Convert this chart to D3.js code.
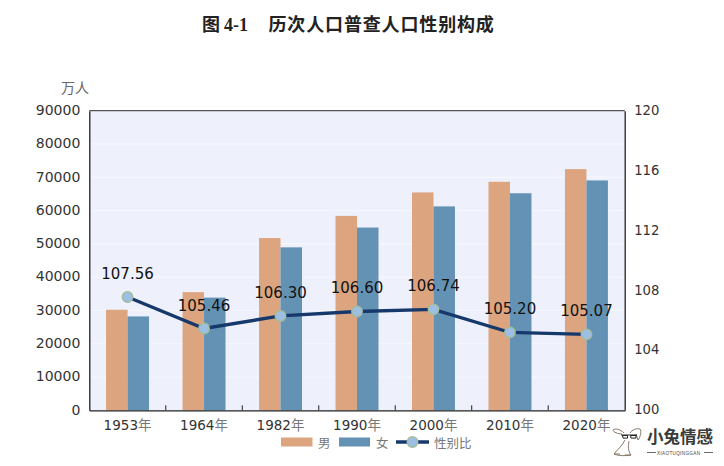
<!DOCTYPE html>
<html>
<head>
<meta charset="utf-8">
<script src="https://cdn.jsdelivr.net/npm/d3@7"></script>
<style>
  html, body { margin: 0; background: #fff; }
  svg { display: block; }
  .tick text, .lbl { font-family: "DejaVu Sans", "Noto Sans CJK SC", sans-serif; }
</style>
</head>
<body>
<svg id="chart" width="724" height="466"></svg>
<script>
const years  = ["1953年", "1964年", "1982年", "1990年", "2000年", "2010年", "2020年"];
const male   = [30200, 35500, 51750, 58400, 65450, 68650, 72450];
const female = [28200, 33850, 48950, 54900, 61250, 65200, 69050];
const ratio  = [107.56, 105.46, 106.30, 106.60, 106.74, 105.20, 105.07];
const ratioLabels = ["107.56", "105.46", "106.30", "106.60", "106.74", "105.20", "105.07"];
const leftTicks  = [0, 10000, 20000, 30000, 40000, 50000, 60000, 70000, 80000, 90000];
const rightTicks = [100, 104, 108, 112, 116, 120];

const colMale = "#dca580", colFemale = "#6492b4", colLine = "#16386b";
const plot = { left: 89.3, right: 624.7, top: 110.7, bottom: 410.3 };

const svg = d3.select("#chart");

// Title
const title = svg.append("text").attr("y", 31).attr("fill", "#222")
    .attr("font-weight", "bold").attr("font-size", 18);
title.append("tspan").attr("x", 202).attr("font-family", "'Noto Sans CJK SC'").text("图");
title.append("tspan").attr("x", 224).attr("font-family", "'Liberation Serif'").text("4-1");
title.append("tspan").attr("x", 268.5).attr("font-family", "'Noto Sans CJK SC'")
    .attr("letter-spacing", 0.85).text("历次人口普查人口性别构成");

// Scales
const x = d3.scaleBand().domain(years).range([plot.left, plot.right]);
const xSub = d3.scaleBand().domain(["male", "female"]).range([0, x.bandwidth()]).paddingOuter(0.78).paddingInner(0);
const yLeft = d3.scaleLinear().domain([0, 90000]).range([plot.bottom, plot.top]);
const yRight = d3.scaleLinear().domain([100, 120]).range([plot.bottom, plot.top]);
const cx = d => x(d) + x.bandwidth() / 2;

// Plot background and grid
svg.append("rect").attr("x", plot.left).attr("y", plot.top)
    .attr("width", plot.right - plot.left).attr("height", plot.bottom - plot.top)
    .attr("fill", "#eef0fc");
svg.append("g").selectAll("line").data(leftTicks.slice(1, -1)).join("line")
    .attr("x1", plot.left).attr("x2", plot.right)
    .attr("y1", d => yLeft(d)).attr("y2", d => yLeft(d))
    .attr("stroke", "#f7f8fe").attr("stroke-width", 1);

// Bars
const groups = svg.append("g").selectAll("g").data(years).join("g")
    .attr("transform", d => `translate(${x(d)},0)`);
groups.append("rect").attr("x", xSub("male")).attr("width", xSub.bandwidth())
    .attr("y", (d, i) => yLeft(male[i])).attr("height", (d, i) => plot.bottom - yLeft(male[i]))
    .attr("fill", colMale);
groups.append("rect").attr("x", xSub("female")).attr("width", xSub.bandwidth())
    .attr("y", (d, i) => yLeft(female[i])).attr("height", (d, i) => plot.bottom - yLeft(female[i]))
    .attr("fill", colFemale);

// Axes
const styleAxis = g => {
  g.selectAll("text").attr("fill", "#333").attr("font-size", 14);
  g.select(".domain").attr("stroke", "#222").attr("stroke-width", 1.3);
};
svg.append("g").attr("transform", `translate(${plot.left},0)`)
    .call(d3.axisLeft(yLeft).tickValues(leftTicks).tickFormat(d3.format("d")).tickSize(0).tickPadding(9))
    .call(styleAxis)
    .call(g => g.selectAll("text").attr("dy", "0.27em"));
svg.append("g").attr("transform", `translate(${plot.right},0)`)
    .call(d3.axisRight(yRight).tickValues(rightTicks).tickSize(0).tickPadding(9.5))
    .call(styleAxis)
    .call(g => g.selectAll("text").attr("font-size", 13.2).attr("dy", "0.27em"));
svg.append("line").attr("x1", plot.left).attr("x2", plot.right)
    .attr("y1", plot.top).attr("y2", plot.top).attr("stroke", "#555").attr("stroke-width", 1.3);
const xAxis = svg.append("g").attr("transform", `translate(0,${plot.bottom})`)
    .call(d3.axisBottom(x).tickSize(0).tickPadding(10.5))
    .call(styleAxis);
xAxis.selectAll("text").attr("font-size", 13.5);
// the 年 is set lighter than the digits
xAxis.selectAll(".tick text").text(null).each(function(d) {
  const t = d3.select(this);
  t.append("tspan").text(d.slice(0, -1));
  t.append("tspan").attr("fill", "#777").text(d.slice(-1));
});
// tick marks sit between categories and point inward
svg.append("g").selectAll("line").data(years.slice(1)).join("line")
    .attr("x1", d => x(d)).attr("x2", d => x(d))
    .attr("y1", plot.bottom).attr("y2", plot.bottom - 5)
    .attr("stroke", "#222").attr("stroke-width", 1);

// Sex ratio line
const line = d3.line().x((d, i) => cx(years[i])).y(d => yRight(d));
svg.append("path").datum(ratio).attr("d", line)
    .attr("fill", "none").attr("stroke", colLine).attr("stroke-width", 3.4);
svg.append("g").selectAll("circle").data(ratio).join("circle")
    .attr("cx", (d, i) => cx(years[i])).attr("cy", d => yRight(d)).attr("r", 5.2)
    .attr("fill", "#9dbfe6").attr("stroke", "#a3bd9b").attr("stroke-width", 1.5);
svg.append("g").selectAll("text").data(ratio).join("text")
    .attr("class", "lbl")
    .attr("x", (d, i) => cx(years[i])).attr("y", d => yRight(d) - 18)
    .attr("text-anchor", "middle").attr("font-size", 15).attr("fill", "#111")
    .text((d, i) => ratioLabels[i]);

// Unit
svg.append("text").attr("x", 61).attr("y", 93).attr("font-size", 14).attr("fill", "#666")
    .attr("font-family", "'Noto Sans CJK SC'").text("万人");

// Legend
const legend = svg.append("g").attr("font-family", "'Noto Sans CJK SC'")
    .attr("font-size", 12.5).attr("fill", "#777");
legend.append("rect").attr("x", 281).attr("y", 437.5).attr("width", 31.5).attr("height", 9).attr("fill", colMale);
legend.append("text").attr("x", 318).attr("y", 448).text("男");
legend.append("rect").attr("x", 339).attr("y", 437.5).attr("width", 31).attr("height", 9).attr("fill", colFemale);
legend.append("text").attr("x", 376).attr("y", 448).text("女");
legend.append("line").attr("x1", 396).attr("x2", 429).attr("y1", 442).attr("y2", 442)
    .attr("stroke", colLine).attr("stroke-width", 3.4);
legend.append("circle").attr("cx", 412.5).attr("cy", 442).attr("r", 5.2)
    .attr("fill", "#9dbfe6").attr("stroke", "#a3bd9b").attr("stroke-width", 1.5);
legend.append("text").attr("x", 434).attr("y", 448).text("性别比");

// Watermark
const mark = svg.append("g");
mark.append("text").attr("x", 647).attr("y", 443).attr("font-family", "'Noto Sans CJK SC'")
    .attr("font-weight", "bold").attr("font-size", 16.5).attr("fill", "#3a3a3a").text("小兔情感");
mark.append("text").attr("x", 657).attr("y", 454.5).attr("font-family", "'Liberation Sans'")
    .attr("font-size", 4.6).attr("letter-spacing", 0.35).attr("fill", "#444").text("XIAOTUQINGGAN");
mark.append("path").attr("d", "M647 452.5h9M704 452.5h9").attr("stroke", "#444").attr("stroke-width", 0.8);
// rabbit with glasses
mark.append("path")
    .attr("d", "M622 434C618 434 613 432 613 430C615 428 620 429 624 433M630 433C632 430 636 428 640 429C642 431 640 438 638 440C637 438 637 436 636 434M625 440C622 446 617 450 614 454C618 456 626 456 631 455M629 441C628 446 628 451 631 455M614 454H620M625 455H631")
    .attr("fill", "none").attr("stroke", "#7a6a58").attr("stroke-width", 0.9);
mark.append("path")
    .attr("d", "M621 435H637M622.5 435.5h5v2.6h-4.5zM630.5 435.5h5.5v2.6h-5z")
    .attr("fill", "none").attr("stroke", "#222").attr("stroke-width", 1);
</script>
</body>
</html>
